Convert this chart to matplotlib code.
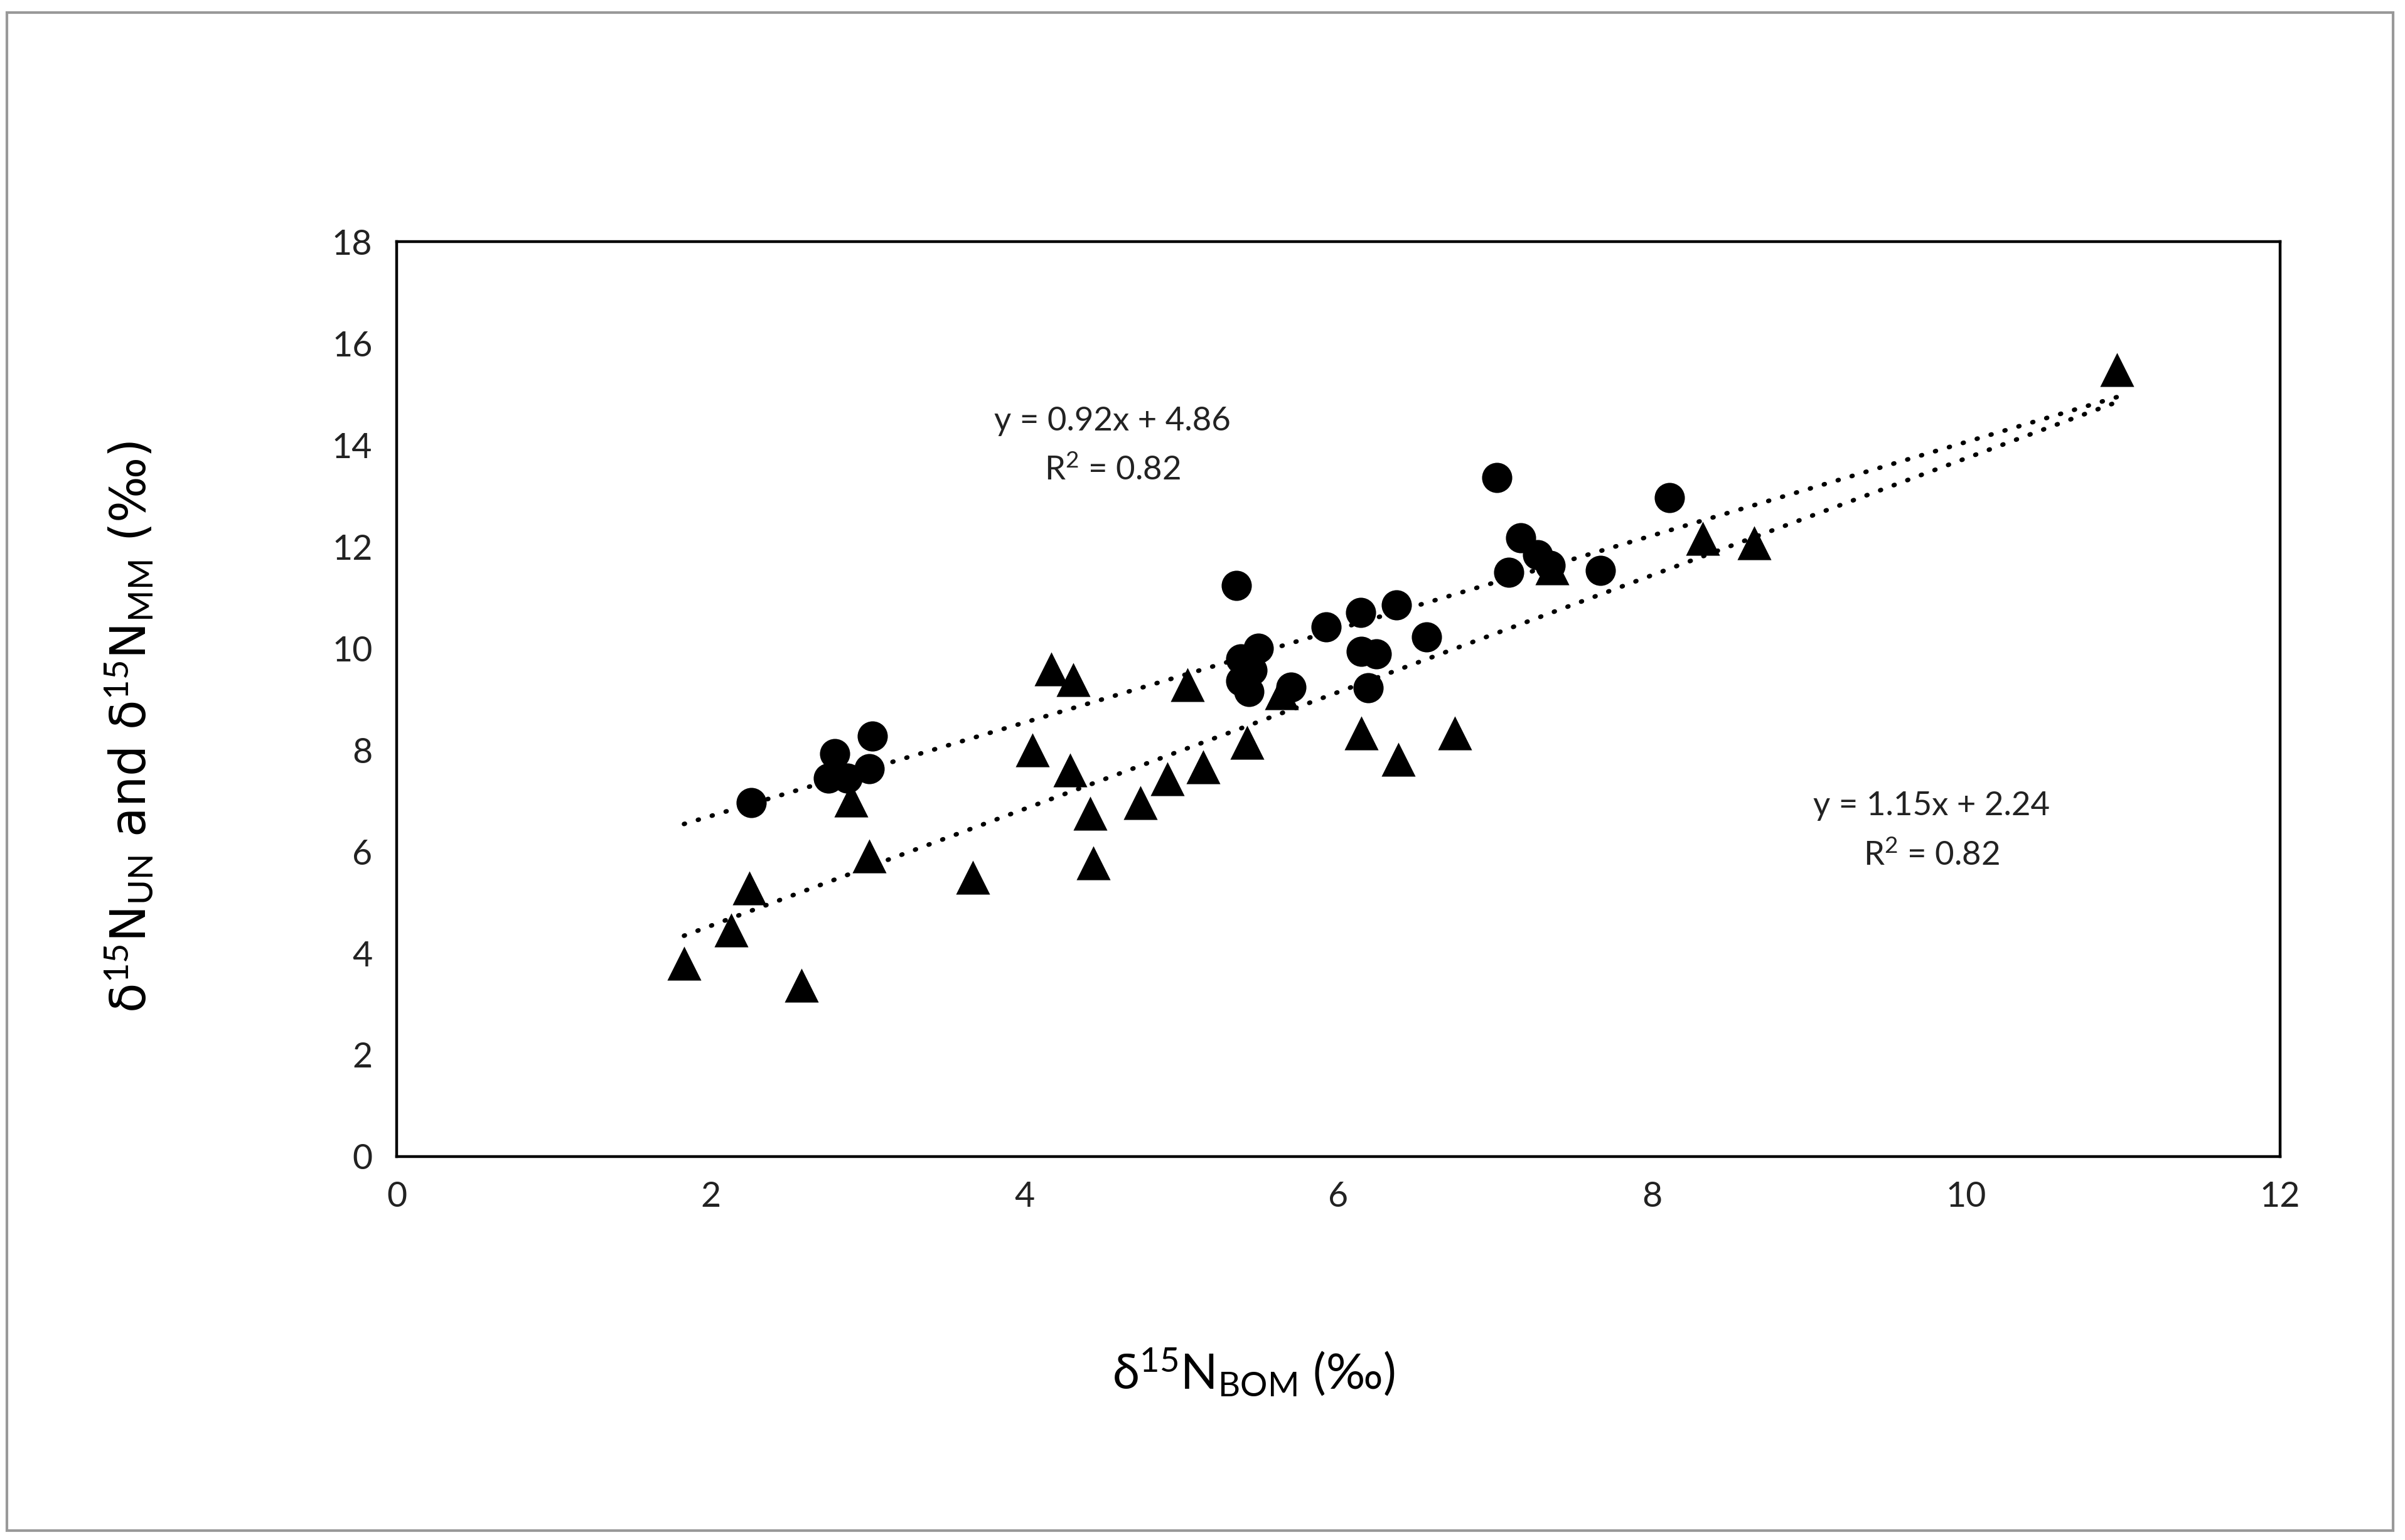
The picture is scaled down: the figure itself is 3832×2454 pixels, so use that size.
import matplotlib
matplotlib.use("Agg")
import matplotlib.pyplot as plt
import numpy as np
from matplotlib.patches import Rectangle

plt.rcParams['font.family'] = ['Lato', 'DejaVu Sans']
plt.rcParams['mathtext.fontset'] = 'custom'
plt.rcParams['mathtext.rm'] = 'Lato'
plt.rcParams['mathtext.it'] = 'Lato:italic'

# circles: delta15N UN vs BOM
un_x = [2.26, 2.79, 3.03, 3.01, 2.75, 2.87, 5.35, 7.01, 8.11, 7.16, 7.27, 7.35, 7.085, 7.67,
        6.37, 6.14, 5.92, 6.56, 6.145, 6.24, 6.19, 5.49, 5.38, 5.38, 5.43, 5.45, 5.70]
un_y = [6.97, 7.93, 8.27, 7.63, 7.45, 7.45, 11.24, 13.36, 12.96, 12.17, 11.84, 11.63, 11.50, 11.53,
        10.85, 10.70, 10.42, 10.23, 9.94, 9.89, 9.22, 10.0, 9.79, 9.36, 9.15, 9.57, 9.23]

# triangles: delta15N MM vs BOM
mm_x = [1.83, 2.13, 2.245, 2.58, 2.895, 3.01, 3.67, 4.05, 4.17, 4.31, 4.29, 4.42, 4.44,
        4.74, 4.91, 5.04, 5.14, 5.42, 5.64, 6.145, 6.38, 6.74, 7.36, 8.32, 8.65, 10.96]
mm_y = [3.80, 4.46, 5.28, 3.37, 7.01, 5.92, 5.50, 8.0, 9.59, 9.38, 7.60, 6.76, 5.78,
        6.96, 7.43, 9.28, 7.67, 8.15, 9.12, 8.34, 7.82, 8.33, 11.58, 12.16, 12.08, 15.49]

# trendline coefficients as printed on the chart
un_fit = (0.92, 4.86)
mm_fit = (1.15, 2.24)
fit_range = (1.83, 10.96)

fig = plt.figure(figsize=(19.16, 12.27), dpi=200)
ax = fig.add_axes([0.165, 0.249, 0.783, 0.594])

ax.scatter(un_x, un_y, marker="o", s=300, color="black", zorder=3, linewidths=0)
ax.scatter(mm_x, mm_y, marker="^", s=380, color="black", zorder=3, linewidths=0)

xs = np.linspace(fit_range[0], fit_range[1], 100)
dots = (0, (0.2, 3.0))
ax.plot(xs, un_fit[0] * xs + un_fit[1], linestyle=dots, color="black", lw=2.6,
        dash_capstyle="round", zorder=2)
ax.plot(xs, mm_fit[0] * xs + mm_fit[1], linestyle=dots, color="black", lw=2.6,
        dash_capstyle="round", zorder=2)

ax.set_xlim(0, 12)
ax.set_ylim(0, 18)
ax.set_xticks(range(0, 13, 2))
ax.set_yticks(range(0, 19, 2))
ax.tick_params(length=0, labelsize=20, pad=14)
for lab in ax.get_xticklabels() + ax.get_yticklabels():
    lab.set_color("#222222")
for sp in ax.spines.values():
    sp.set_linewidth(1.6)
    sp.set_color("black")

txt = dict(fontsize=19, ha="center", va="center", color="#222222")
ax.text(4.56, 14.47, "y = 0.92x + 4.86", **txt)
ax.text(4.56, 13.5, "R$^2$ = 0.82", **txt)
ax.text(9.78, 6.9, "y = 1.15x + 2.24", **txt)
ax.text(9.78, 5.92, "R$^2$ = 0.82", **txt)

ax.set_xlabel("δ$^{15}$N$_{\\rm BOM}$ (‰)", fontsize=28)
ax.set_ylabel("δ$^{15}$N$_{\\rm UN}$ and δ$^{15}$N$_{\\rm MM}$ (‰)", fontsize=28,
              family=['DejaVu Sans'])
ax.xaxis.set_label_coords(0.455, -0.208)
ax.yaxis.set_label_coords(-0.128, 0.47)

fig.patches.append(Rectangle((0.003, 0.006), 0.992, 0.986, transform=fig.transFigure,
                             fill=False, edgecolor="#999999", lw=1.5))

fig.savefig("out.png", dpi=200, facecolor="white")
